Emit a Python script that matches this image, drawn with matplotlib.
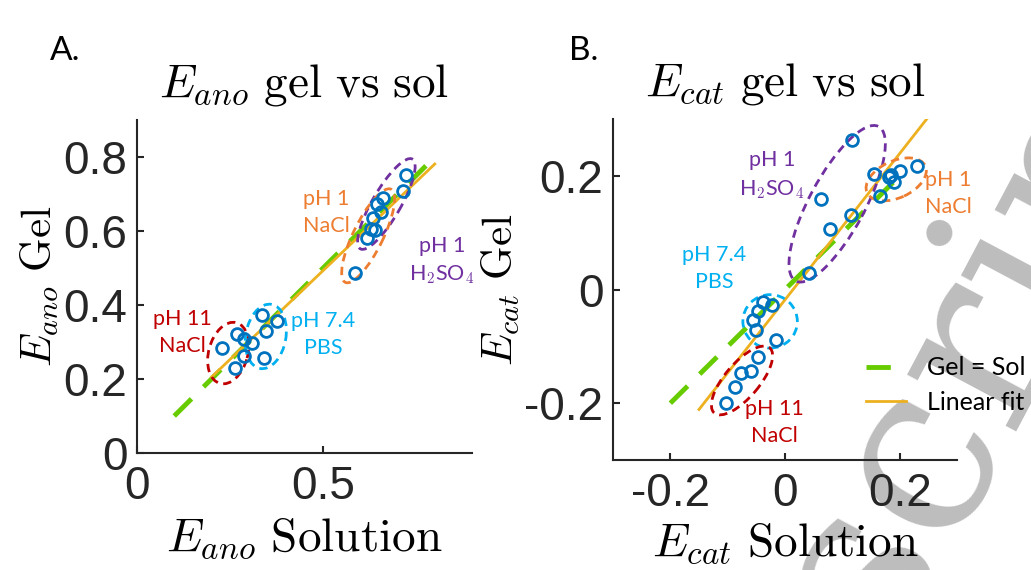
import numpy as np
import matplotlib
matplotlib.use("Agg")
import matplotlib.pyplot as plt
from matplotlib.patches import Ellipse

plt.rcParams['mathtext.fontset'] = 'cm'

# ---- panel A: anodic potentials (solution vs gel) ----
ano_h2so4_sol = [0.724, 0.715, 0.660, 0.645]
ano_h2so4_gel = [0.751, 0.707, 0.688, 0.672]
ano_nacl1_sol = [0.655, 0.635, 0.640, 0.628, 0.618, 0.585]
ano_nacl1_gel = [0.650, 0.636, 0.602, 0.606, 0.580, 0.487]
ano_nacl11_sol = [0.229, 0.268, 0.287, 0.287, 0.263]
ano_nacl11_gel = [0.284, 0.322, 0.308, 0.261, 0.231]
ano_pbs_sol = [0.310, 0.341, 0.337, 0.346, 0.376]
ano_pbs_gel = [0.297, 0.257, 0.372, 0.329, 0.356]
ano_fit = [0.96, 0.013]          # slope, intercept
ano_fit_range = [0.20, 0.80]
ano_ident_range = [0.10, 0.80]

# ---- panel B: cathodic potentials ----
cat_h2so4_sol = [0.117, 0.062, 0.115, 0.079, 0.042]
cat_h2so4_gel = [0.263, 0.160, 0.132, 0.107, 0.030]
cat_nacl1_sol = [0.156, 0.166, 0.185, 0.191, 0.200, 0.231, 0.182]
cat_nacl1_gel = [0.204, 0.164, 0.201, 0.190, 0.208, 0.218, 0.199]
cat_pbs_sol = [-0.038, -0.023, -0.047, -0.056, -0.051, -0.015]
cat_pbs_gel = [-0.022, -0.028, -0.037, -0.053, -0.072, -0.088]
cat_nacl11_sol = [-0.047, -0.060, -0.076, -0.088, -0.103]
cat_nacl11_gel = [-0.119, -0.143, -0.147, -0.172, -0.199]
cat_fit = [1.287, -0.018]
cat_fit_range = [-0.15, 0.247]
cat_ident_range = [-0.20, 0.20]

c_pt = '#0072BD'
c_green = '#66CC00'
c_fit = '#EDB120'
c_purple = '#7030A0'
c_orange = '#ED7D31'
c_red = '#C00000'
c_cyan = '#00B0F0'
c_ax = '#262626'

tick_font = 'Liberation Sans'
note_font = 'Lato'

fig = plt.figure(figsize=(10.31, 5.70), dpi=100)
axA = fig.add_axes([0.1329, 0.2053, 0.3249, 0.5842])
axB = fig.add_axes([0.5946, 0.193, 0.3336, 0.598])


def style(ax):
    ax.patch.set_alpha(0)
    for s in ['top', 'right']:
        ax.spines[s].set_visible(False)
    for s in ['left', 'bottom']:
        ax.spines[s].set_linewidth(1.5)
        ax.spines[s].set_color(c_ax)
    ax.tick_params(direction='in', length=5, width=1.5, colors=c_ax,
                   labelsize=33)
    ax.tick_params(axis='x', pad=9)
    ax.tick_params(axis='y', pad=7)
    for lab in ax.get_xticklabels() + ax.get_yticklabels():
        lab.set_fontfamily(tick_font)


def pts(ax, x, y):
    ax.plot(x, y, 'o', ls='none', mfc='none', mec=c_pt, mew=2, ms=8.5, zorder=5)


def ell(ax, xy, w, h, ang, col):
    ax.add_patch(Ellipse(xy, w, h, angle=ang, fill=False, ec=col, lw=2,
                         ls=(0, (3, 2)), zorder=4))


def note(ax, x, y, s, col):
    ax.text(x, y, s, color=col, fontsize=15.5, ha='center', va='center',
            family=note_font, linespacing=1.45)


# panel A
xi = np.array(ano_ident_range)
axA.plot(xi, xi, color=c_green, lw=3.5, dashes=(5, 3.5), zorder=2)
xf = np.array(ano_fit_range)
axA.plot(xf, ano_fit[0] * xf + ano_fit[1], color=c_fit, lw=2, zorder=3)
for x, y in [(ano_h2so4_sol, ano_h2so4_gel), (ano_nacl1_sol, ano_nacl1_gel),
             (ano_nacl11_sol, ano_nacl11_gel), (ano_pbs_sol, ano_pbs_gel)]:
    pts(axA, x, y)
ell(axA, (0.670, 0.673), 0.28, 0.076, 60, c_purple)
ell(axA, (0.621, 0.587), 0.28, 0.08, 64, c_orange)
ell(axA, (0.245, 0.270), 0.17, 0.105, 75, c_red)
ell(axA, (0.346, 0.315), 0.176, 0.108, 80, c_cyan)
note(axA, 0.508, 0.651, 'pH 1\nNaCl', c_orange)
note(axA, 0.819, 0.518, 'pH 1\nH$_2$SO$_4$', c_purple)
note(axA, 0.122, 0.325, 'pH 11\nNaCl', c_red)
note(axA, 0.50, 0.32, 'pH 7.4\nPBS', c_cyan)
axA.set_xlim(0, 0.9)
axA.set_ylim(0, 0.9)
axA.set_xticks([0, 0.5])
axA.set_xticklabels(['0', '0.5'])
axA.set_yticks([0, 0.2, 0.4, 0.6, 0.8])
axA.set_yticklabels(['0', '0.2', '0.4', '0.6', '0.8'])
style(axA)
axA.set_title(r'$E_{ano}\ \mathrm{gel\ vs\ sol}$', fontsize=34, pad=17)
axA.set_xlabel(r'$E_{ano}\ \mathrm{Solution}$', fontsize=34, labelpad=5)
axA.set_ylabel(r'$E_{ano}\ \mathrm{Gel}$', fontsize=31, labelpad=2)

# panel B
xi = np.array(cat_ident_range)
axB.plot(xi, xi, color=c_green, lw=3.5, dashes=(5, 3.5), zorder=2,
         label='Gel = Sol')
xf = np.array(cat_fit_range)
axB.plot(xf, cat_fit[0] * xf + cat_fit[1], color=c_fit, lw=2, zorder=3,
         label='Linear fit')
for x, y in [(cat_h2so4_sol, cat_h2so4_gel), (cat_nacl1_sol, cat_nacl1_gel),
             (cat_pbs_sol, cat_pbs_gel), (cat_nacl11_sol, cat_nacl11_gel)]:
    pts(axB, x, y)
ell(axB, (0.091, 0.151), 0.308, 0.097, 62, c_purple)
ell(axB, (0.194, 0.194), 0.112, 0.065, 25, c_orange)
ell(axB, (-0.026, -0.056), 0.095, 0.094, 0, c_cyan)
ell(axB, (-0.075, -0.160), 0.15, 0.06, 50, c_red)
note(axB, -0.023, 0.201, 'pH 1\nH$_2$SO$_4$', c_purple)
note(axB, -0.123, 0.037, 'pH 7.4\nPBS', c_cyan)
note(axB, 0.285, 0.169, 'pH 1\nNaCl', c_orange)
note(axB, -0.018, -0.234, 'pH 11\nNaCl', c_red)
axB.set_xlim(-0.3, 0.3)
axB.set_ylim(-0.3, 0.3)
axB.set_xticks([-0.2, 0, 0.2])
axB.set_xticklabels(['-0.2', '0', '0.2'])
axB.set_yticks([-0.2, 0, 0.2])
axB.set_yticklabels(['-0.2', '0', '0.2'])
style(axB)
axB.set_title(r'$E_{cat}\ \mathrm{gel\ vs\ sol}$', fontsize=34, pad=17)
axB.set_xlabel(r'$E_{cat}\ \mathrm{Solution}$', fontsize=34, labelpad=3)
axB.set_ylabel(r'$E_{cat}\ \mathrm{Gel}$', fontsize=31, labelpad=2)
leg = axB.legend(loc='upper left', bbox_to_anchor=(0.67, 0.37), frameon=False,
                 prop={'family': note_font, 'size': 18}, handlelength=1.6,
                 handletextpad=0.85, labelspacing=0.45)

fig.text(0.048, 0.895, 'A.', fontsize=24, family=note_font)
fig.text(0.552, 0.895, 'B.', fontsize=24, family=note_font)

# watermark, behind everything
fig.text(0.805, -0.091, 'Manuscript', fontsize=170, family='DejaVu Serif',
         color='#bdbdbd', rotation=62, ha='center', va='center', zorder=-5)

fig.savefig('out.png', dpi=100)
